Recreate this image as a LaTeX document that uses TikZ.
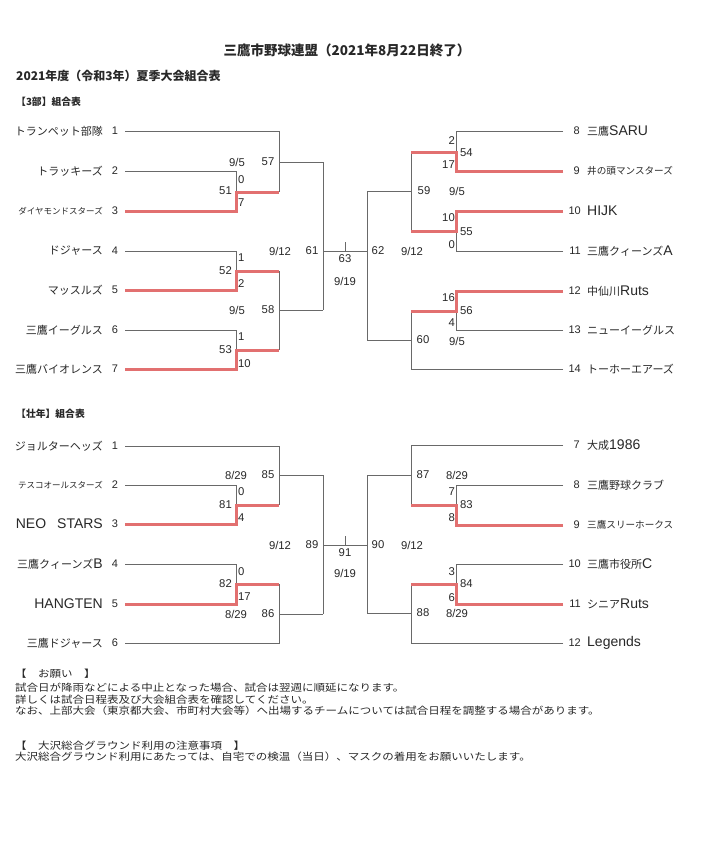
\documentclass[tikz,border=0pt]{standalone}
\usepackage{fontspec}
\setmainfont{Noto Sans CJK JP}
\newfontfamily\latfam{Liberation Sans}
\newfontfamily\notefam[FakeStretch=1.15]{Noto Sans CJK JP}
\newcommand\LatN[1]{{\latfam\fontsize{14}{15}\selectfont #1}}
\definecolor{lncol}{RGB}{105,105,105}
\definecolor{winred}{RGB}{226,112,112}
\definecolor{txt}{RGB}{40,40,40}
\tikzset{
  ln/.style={draw=lncol, line width=0.95pt},
  win/.style={draw=winred, line width=3pt, line join=miter},
  tname/.style={inner sep=0pt, text=txt, font=\fontsize{11}{13}\selectfont},
  sname/.style={inner sep=0pt, text=txt, font=\fontsize{8.5}{10}\selectfont},
  mname/.style={inner sep=0pt, text=txt, font=\fontsize{9.6}{11}\selectfont},
  tnum/.style={inner sep=0pt, text=txt, font=\latfam\fontsize{11}{13}\selectfont},
  lab/.style={inner sep=0pt, text=txt, font=\latfam\fontsize{11.3}{13}\selectfont},
  head/.style={inner sep=0pt, text=txt, anchor=west},
  note/.style={inner sep=0pt, text=txt, anchor=west, font=\notefam\fontsize{10}{11}\selectfont}
}
\begin{document}
\begin{tikzpicture}[x=1pt,y=-1pt]
\useasboundingbox[fill=white] (0,0) rectangle (708,859);

% ---------- headings ----------
\node[inner sep=0pt, text=txt, font=\bfseries\fontsize{13.5}{15}\selectfont] (title) at (347,50) {三鷹市野球連盟（2021年8月22日終了）};
\node[head, font=\bfseries\fontsize{12}{14}\selectfont] (sub) at (16,76) {2021年度（令和3年）夏季大会組合表};
\node[head, font=\bfseries\fontsize{9.8}{12}\selectfont] (h3bu) at (16,102) {【3部】組合表};
\node[head, font=\bfseries\fontsize{9.8}{12}\selectfont] (hsou) at (16,414) {【壮年】組合表};

% ---------- 3部: coordinates ----------
\coordinate (A1) at (125,131); \coordinate (A2) at (125,171);
\coordinate (A3) at (125,211); \coordinate (A4) at (125,251);
\coordinate (A5) at (125,290); \coordinate (A6) at (125,330);
\coordinate (A7) at (125,369);
\coordinate (J51) at (236,192); \coordinate (K51) at (279,192);
\coordinate (J57) at (279,162); \coordinate (K57) at (323,162);
\coordinate (J52) at (236,271); \coordinate (K52) at (279,271);
\coordinate (J53) at (236,350); \coordinate (K53) at (279,350);
\coordinate (J58) at (279,310); \coordinate (K58) at (323,310);
\coordinate (J61) at (323,251); \coordinate (J62) at (367,251);
\coordinate (T63) at (345,251); \coordinate (T63b) at (345,242);
\coordinate (J59) at (411,191); \coordinate (K59) at (367,191);
\coordinate (J60) at (411,340); \coordinate (K60) at (367,340);
\coordinate (J54) at (456,152); \coordinate (K54) at (411,152);
\coordinate (J55) at (456,231); \coordinate (K55) at (411,231);
\coordinate (J56) at (456,311); \coordinate (K56) at (411,311);
\coordinate (B8) at (563,131); \coordinate (B9) at (563,171);
\coordinate (B10) at (563,211); \coordinate (B11) at (563,251);
\coordinate (B12) at (563,291); \coordinate (B13) at (563,330);
\coordinate (B14) at (563,369);

% lines
\draw[ln] (A1) -| (K51);
\draw[ln] (A2) -| (J51);
\draw[ln] (J57) -- (K57);
\draw[ln] (A4) -| (J52);
\draw[ln] (A6) -| (J53);
\draw[ln] (K52) -- (K53);
\draw[ln] (J58) -- (K58);
\draw[ln] (K57) -- (K58);
\draw[ln] (J61) -- (J62);
\draw[ln] (T63) -- (T63b);
\draw[ln] (K59) -- (K60);
\draw[ln] (K59) -- (J59);
\draw[ln] (K60) -- (J60);
\draw[ln] (B8) -| (J54);
\draw[ln] (K54) -- (K55);
\draw[ln] (B11) -| (J55);
\draw[ln] (B13) -| (J56);
\draw[ln] (B14) -| (K56);
\draw[win] (A3) -| (J51) -- (K51);
\draw[win] (A5) -| (J52) -- (K52);
\draw[win] (A7) -| (J53) -- (K53);
\draw[win] (B9) -| (J54) -- (K54);
\draw[win] (B10) -| (J55) -- (K55);
\draw[win] (B12) -| (J56) -- (K56);

% team names left
\node[tname, anchor=east] (ta1) at (103,131) {トランペット部隊};
\node[tname, anchor=east] (ta2) at (103,171) {トラッキーズ};
\node[sname, anchor=east] (ta3) at (103,211) {ダイヤモンドスターズ};
\node[tname, anchor=east] (ta4) at (103,251) {ドジャース};
\node[tname, anchor=east] (ta5) at (103,290) {マッスルズ};
\node[tname, anchor=east] (ta6) at (103,330) {三鷹イーグルス};
\node[tname, anchor=east] (ta7) at (103,369) {三鷹バイオレンス};
\node[tnum] (na1) at (115,131) {1};
\node[tnum] (na2) at (115,171) {2};
\node[tnum] (na3) at (115,211) {3};
\node[tnum] (na4) at (115,251) {4};
\node[tnum] (na5) at (115,290) {5};
\node[tnum] (na6) at (115,330) {6};
\node[tnum] (na7) at (115,369) {7};
% team names right
\node[tnum, anchor=east] (nb8) at (580,131) {8};
\node[tnum, anchor=east] (nb9) at (580,171) {9};
\node[tnum, anchor=east] (nb10) at (581,211) {10};
\node[tnum, anchor=east] (nb11) at (581,251) {11};
\node[tnum, anchor=east] (nb12) at (581,291) {12};
\node[tnum, anchor=east] (nb13) at (581,330) {13};
\node[tnum, anchor=east] (nb14) at (581,369) {14};
\node[tname, anchor=west] (tb8) at (587,131) {三鷹\LatN{SARU}};
\node[mname, anchor=west] (tb9) at (587,171) {井の頭マンスターズ};
\node[tname, anchor=west] (tb10) at (587,211) {\LatN{HIJK}};
\node[tname, anchor=west] (tb11) at (587,251) {三鷹クィーンズ\LatN{A}};
\node[tname, anchor=west] (tb12) at (587,291) {中仙川\LatN{Ruts}};
\node[tname, anchor=west] (tb13) at (587,330) {ニューイーグルス};
\node[tname, anchor=west] (tb14) at (587,369) {トーホーエアーズ};

% score / match labels
\node[lab] (l1) at (237,162) {9/5};
\node[lab] (l2) at (268,162) {57};
\node[lab, anchor=west] (l3) at (238,180) {0};
\node[lab, anchor=east] (l4) at (232,191) {51};
\node[lab, anchor=west] (l5) at (238,203) {7};
\node[lab, anchor=west] (l6) at (238,258) {1};
\node[lab, anchor=east] (l7) at (232,271) {52};
\node[lab, anchor=west] (l8) at (238,284) {2};
\node[lab] (l9) at (280,251) {9/12};
\node[lab] (l10) at (312,251) {61};
\node[lab] (l11) at (237,310) {9/5};
\node[lab] (l12) at (268,310) {58};
\node[lab, anchor=west] (l13) at (238,337) {1};
\node[lab, anchor=east] (l14) at (232,350) {53};
\node[lab, anchor=west] (l15) at (238,364) {10};
\node[lab] (l16) at (345,259) {63};
\node[lab] (l17) at (345,281) {9/19};
\node[lab] (l18) at (378,251) {62};
\node[lab] (l19) at (412,251) {9/12};
\node[lab, anchor=east] (l20) at (455,141) {2};
\node[lab, anchor=west] (l21) at (460,153) {54};
\node[lab, anchor=east] (l22) at (455,165) {17};
\node[lab] (l23) at (424,191) {59};
\node[lab] (l24) at (457,191) {9/5};
\node[lab, anchor=east] (l25) at (455,218) {10};
\node[lab, anchor=west] (l26) at (460,232) {55};
\node[lab, anchor=east] (l27) at (455,245) {0};
\node[lab, anchor=east] (l28) at (455,298) {16};
\node[lab, anchor=west] (l29) at (460,311) {56};
\node[lab, anchor=east] (l30) at (455,323) {4};
\node[lab] (l31) at (423,340) {60};
\node[lab] (l32) at (457,341) {9/5};

% ---------- 壮年: coordinates ----------
\coordinate (C1) at (125,446); \coordinate (C2) at (125,485);
\coordinate (C3) at (125,524); \coordinate (C4) at (125,564);
\coordinate (C5) at (125,604); \coordinate (C6) at (125,643);
\coordinate (J81) at (236,505); \coordinate (K81) at (279,505);
\coordinate (J85) at (279,475); \coordinate (K85) at (323,475);
\coordinate (J82) at (236,584); \coordinate (K82) at (279,584);
\coordinate (J86) at (279,614); \coordinate (K86) at (323,614);
\coordinate (J89) at (323,545); \coordinate (J90) at (367,545);
\coordinate (T91) at (345,545); \coordinate (T91b) at (345,536);
\coordinate (D7) at (563,445); \coordinate (D8) at (563,485);
\coordinate (D9) at (563,525); \coordinate (D10) at (563,564);
\coordinate (D11) at (563,604); \coordinate (D12) at (563,643);
\coordinate (J83) at (456,505); \coordinate (K83) at (411,505);
\coordinate (J84) at (456,584); \coordinate (K84) at (411,584);
\coordinate (J87) at (411,475); \coordinate (K87) at (367,475);
\coordinate (J88) at (411,613); \coordinate (K88) at (367,613);

\draw[ln] (C1) -| (K81);
\draw[ln] (C2) -| (J81);
\draw[ln] (J85) -- (K85);
\draw[ln] (C4) -| (J82);
\draw[ln] (C6) -| (K82);
\draw[ln] (J86) -- (K86);
\draw[ln] (K85) -- (K86);
\draw[ln] (J89) -- (J90);
\draw[ln] (T91) -- (T91b);
\draw[ln] (K87) -- (K88);
\draw[ln] (J87) -- (K87);
\draw[ln] (J88) -- (K88);
\draw[ln] (D7) -| (K83);
\draw[ln] (D8) -| (J83);
\draw[ln] (D10) -| (J84);
\draw[ln] (D12) -| (K84);
\draw[win] (C3) -| (J81) -- (K81);
\draw[win] (C5) -| (J82) -- (K82);
\draw[win] (D9) -| (J83) -- (K83);
\draw[win] (D11) -| (J84) -- (K84);

\node[tname, anchor=east] (tc1) at (103,446) {ジョルターヘッズ};
\node[sname, anchor=east] (tc2) at (103,485) {テスコオールスターズ};
\node[tname, anchor=east] (tc3) at (103,524) {\LatN{NEO}　\LatN{STARS}};
\node[tname, anchor=east] (tc4) at (103,564) {三鷹クィーンズ\LatN{B}};
\node[tname, anchor=east] (tc5) at (103,604) {\LatN{HANGTEN}};
\node[tname, anchor=east] (tc6) at (103,643) {三鷹ドジャース};
\node[tnum] (nc1) at (115,446) {1};
\node[tnum] (nc2) at (115,485) {2};
\node[tnum] (nc3) at (115,524) {3};
\node[tnum] (nc4) at (115,564) {4};
\node[tnum] (nc5) at (115,604) {5};
\node[tnum] (nc6) at (115,643) {6};
\node[tnum, anchor=east] (nd7) at (580,445) {7};
\node[tnum, anchor=east] (nd8) at (580,485) {8};
\node[tnum, anchor=east] (nd9) at (580,525) {9};
\node[tnum, anchor=east] (nd10) at (581,564) {10};
\node[tnum, anchor=east] (nd11) at (581,604) {11};
\node[tnum, anchor=east] (nd12) at (581,643) {12};
\node[tname, anchor=west] (td7) at (587,445) {大成\LatN{1986}};
\node[tname, anchor=west] (td8) at (587,485) {三鷹野球クラブ};
\node[mname, anchor=west] (td9) at (587,525) {三鷹スリーホークス};
\node[tname, anchor=west] (td10) at (587,564) {三鷹市役所\LatN{C}};
\node[tname, anchor=west] (td11) at (587,604) {シニア\LatN{Ruts}};
\node[tname, anchor=west] (td12) at (587,643) {\LatN{Legends}};

\node[lab] (m1) at (236,475) {8/29};
\node[lab] (m2) at (268,475) {85};
\node[lab, anchor=west] (m3) at (238,492) {0};
\node[lab, anchor=east] (m4) at (232,505) {81};
\node[lab, anchor=west] (m5) at (238,518) {4};
\node[lab] (m6) at (280,545) {9/12};
\node[lab] (m7) at (312,545) {89};
\node[lab, anchor=west] (m8) at (238,572) {0};
\node[lab, anchor=east] (m9) at (232,584) {82};
\node[lab, anchor=west] (m10) at (238,597) {17};
\node[lab] (m11) at (236,614) {8/29};
\node[lab] (m12) at (268,614) {86};
\node[lab] (m13) at (345,553) {91};
\node[lab] (m14) at (345,573) {9/19};
\node[lab] (m15) at (378,545) {90};
\node[lab] (m16) at (412,545) {9/12};
\node[lab] (m17) at (423,475) {87};
\node[lab] (m18) at (457,475) {8/29};
\node[lab, anchor=east] (m19) at (455,492) {7};
\node[lab, anchor=west] (m20) at (460,505) {83};
\node[lab, anchor=east] (m21) at (455,518) {8};
\node[lab, anchor=east] (m22) at (455,572) {3};
\node[lab, anchor=west] (m23) at (460,584) {84};
\node[lab, anchor=east] (m24) at (455,598) {6};
\node[lab] (m25) at (423,613) {88};
\node[lab] (m26) at (457,613) {8/29};

% ---------- notes ----------
\node[note] (n1) at (15,674) {【　お願い　】};
\node[note] (n2) at (15,688) {試合日が降雨などによる中止となった場合、試合は翌週に順延になります。};
\node[note] (n3) at (15,699.5) {詳しくは試合日程表及び大会組合表を確認してください。};
\node[note] (n4) at (15,710.5) {なお、上部大会（東京都大会、市町村大会等）へ出場するチームについては試合日程を調整する場合があります。};
\node[note] (n5) at (15,746) {【　大沢総合グラウンド利用の注意事項　】};
\node[note] (n6) at (15,757) {大沢総合グラウンド利用にあたっては、自宅での検温（当日）、マスクの着用をお願いいたします。};
\end{tikzpicture}
\end{document}
